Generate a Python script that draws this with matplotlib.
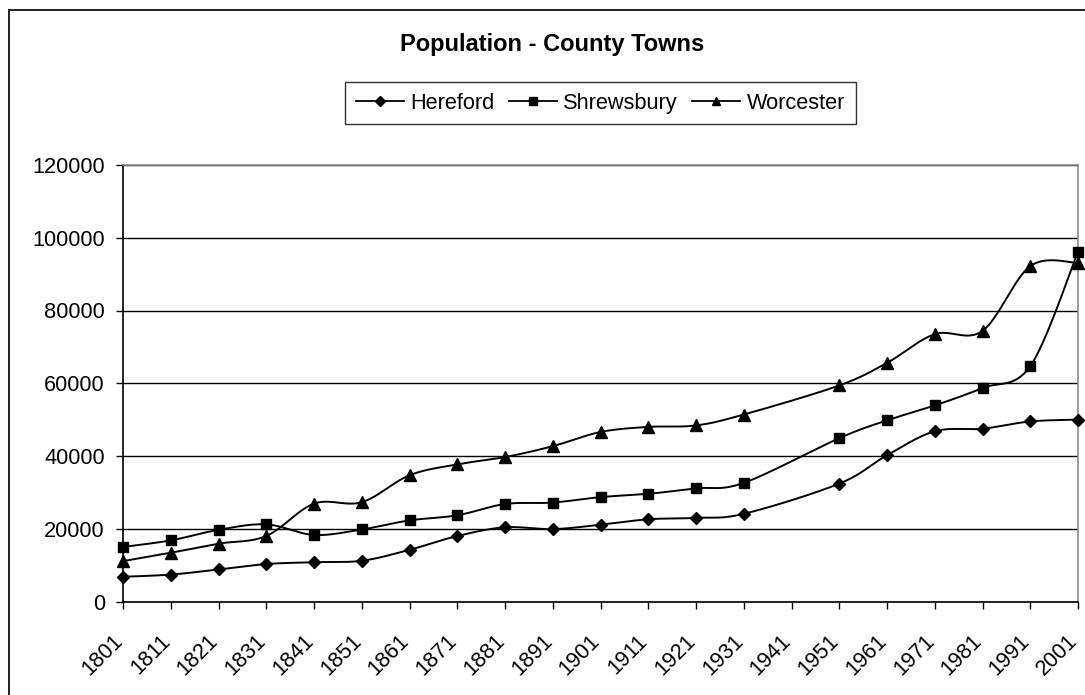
import numpy as np
import matplotlib
matplotlib.use("Agg")
import matplotlib.pyplot as plt
from matplotlib.patches import Rectangle
from matplotlib.transforms import ScaledTranslation

plt.rcParams['font.family'] = ['Liberation Sans', 'DejaVu Sans']

# census years (no census in 1941)
years = [1801, 1811, 1821, 1831, 1841, 1851, 1861, 1871, 1881, 1891, 1901,
         1911, 1921, 1931, 1951, 1961, 1971, 1981, 1991, 2001]
hereford = [6800, 7400, 8800, 10300, 10800, 11200, 14200, 18000, 20400, 19900,
            21100, 22600, 23000, 24100, 32400, 40200, 46800, 47500, 49500, 50000]
shrewsbury = [15000, 16800, 19700, 21200, 18300, 19800, 22300, 23700, 26800, 27200,
              28700, 29600, 31100, 32600, 44900, 49800, 53900, 58700, 64700, 96100]
worcester = [11100, 13400, 15900, 18000, 26900, 27300, 34700, 37700, 39700, 42700,
             46600, 48000, 48400, 51400, 59400, 65600, 73500, 74400, 92200, 93100]
tick_years = list(range(1801, 2002, 10))


def smooth(xs, ys, n=24):
    # piecewise cubic bezier through the points (spreadsheet style smoothing)
    pts = np.column_stack([xs, ys]).astype(float)
    out = []
    for i in range(len(pts) - 1):
        p0 = pts[max(i - 1, 0)]
        p1 = pts[i]
        p2 = pts[i + 1]
        p3 = pts[min(i + 2, len(pts) - 1)]
        c1 = p1 + (p2 - p0) / 6
        c2 = p2 - (p3 - p1) / 6
        t = np.linspace(0, 1, n)[:, None]
        seg = (1 - t)**3 * p1 + 3 * (1 - t)**2 * t * c1 + 3 * (1 - t) * t**2 * c2 + t**3 * p2
        out.append(seg if i == 0 else seg[1:])
    c = np.vstack(out)
    return c[:, 0], c[:, 1]


fig = plt.figure(figsize=(10.85, 6.95), dpi=100)
ax = fig.add_axes([123 / 1085, 1 - 601.5 / 695, (1078 - 123) / 1085, (601.5 - 165) / 695])

series = [("Hereford", hereford, 'D', 6.6),
          ("Shrewsbury", shrewsbury, 's', 7.4),
          ("Worcester", worcester, '^', 8.6)]
handles = []
for name, vals, mk, ms in series:
    sx, sy = smooth(years, vals)
    ax.plot(sx, sy, color='black', lw=1.4, clip_on=False, zorder=3)
    ax.plot(years, vals, ls='none', marker=mk, ms=ms, color='black', clip_on=False, zorder=4)
    h, = ax.plot([], [], color='black', lw=1.3, marker=mk, ms=ms * 0.75, label=name)
    handles.append(h)

ax.set_xlim(1801, 2001)
ax.set_ylim(0, 120000)
ax.set_yticks(range(0, 120001, 20000))
ax.set_xticks(tick_years)
ax.set_xticklabels([str(y) for y in tick_years], rotation=45, ha='right', va='top',
                   rotation_mode='anchor')
ax.yaxis.grid(True, color='black', lw=1.0)
ax.set_axisbelow(True)
ax.tick_params(axis='both', direction='out', length=5, width=1, colors='black',
               labelsize=15.7)
ax.tick_params(axis='y', pad=8)
ax.tick_params(axis='x', pad=16)
shift = ScaledTranslation(-11 / 100, 0, fig.dpi_scale_trans)
for lab in ax.get_xticklabels():
    lab.set_transform(lab.get_transform() + shift)

for s in ['left', 'bottom']:
    ax.spines[s].set_color('black')
    ax.spines[s].set_linewidth(1.2)
for s in ['top', 'right']:
    ax.spines[s].set_color('#8c8c8c')
    ax.spines[s].set_linewidth(1.2)

fig.text(552 / 1085, 1 - 44 / 695, "Population - County Towns", ha='center', va='center',
         fontsize=17, fontweight='bold')

leg = ax.legend(handles=handles, loc='center', bbox_to_anchor=(0.5, 1.142), ncol=3,
                frameon=True, fancybox=False, fontsize=15.7, handlelength=2.2,
                handletextpad=0.3, columnspacing=0.65, borderpad=0.5, borderaxespad=0)
leg.get_frame().set_edgecolor('black')
leg.get_frame().set_linewidth(1.0)

# chart area border
fig.patches.append(Rectangle((9 / 1085, -0.2), 1.2, 1.2 - 10 / 695, transform=fig.transFigure,
                             fill=False, edgecolor='#202020', lw=1.4))

fig.savefig("out.png", dpi=100)
